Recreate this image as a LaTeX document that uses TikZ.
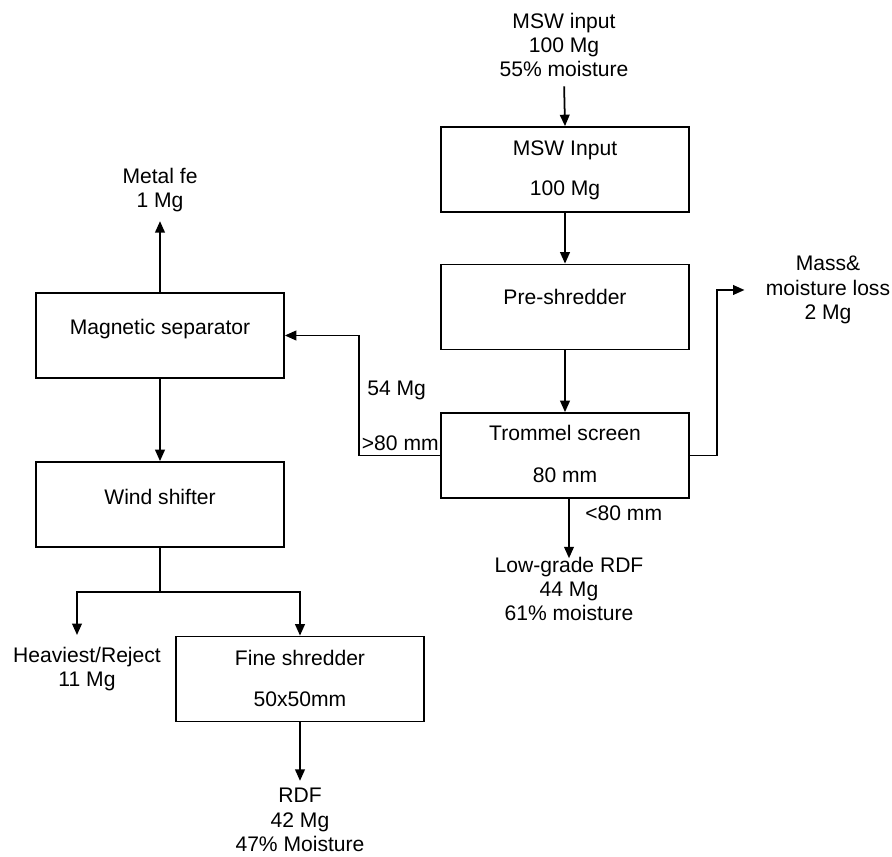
\documentclass[tikz,border=0pt]{standalone}
\usepackage{fontspec}
\setmainfont{Liberation Sans}
\usetikzlibrary{arrows.meta}
\tikzset{flow box/.style={draw,line width=1pt,minimum width=4.96cm,minimum height=1.7cm,inner sep=0pt},
	box text/.style={anchor=base,inner sep=0pt},
	flow label/.style={align=center,inner sep=2pt},
	flow line/.style={line width=1pt},
	flow arrow/.style={flow line,-{Triangle[length=6.5pt,width=5.5pt]}}}

\begin{document}
\begin{tikzpicture}[x=0.02cm,y=-0.02cm,font=\fontsize{12}{13.9}\selectfont]
			\useasboundingbox (0,0) rectangle (892,857);
			\node[flow box] (msw) at (565,169.5) {};
			\node[flow box] (pre) at (565,307) {};
			\node[flow box] (trom) at (565,455.5) {};
			\node[flow box] (mag) at (160,335.5) {};
			\node[flow box] (wind) at (160,504.5) {};
			\node[flow box] (fine) at (300,679) {};
			\node[box text] (mswA) at (565,156) {MSW Input};
			\node[box text] (mswB) at (565,196) {100 Mg};
			\node[box text] (preA) at (565,305) {Pre-shredder};
			\node[box text] (tromA) at (565,441) {Trommel screen};
			\node[box text] (tromB) at (565,483) {80 mm};
			\node[box text] (magA) at (160,335) {Magnetic separator};
			\node[box text] (windA) at (160,505) {Wind shifter};
			\node[box text] (fineA) at (300,665) {Fine shredder};
			\node[box text] (fineB) at (300,706) {50x50mm};
			\node[flow label] (feed) at (564,45) {MSW input\\100 Mg\\55\% moisture};
			\node[flow label] (metal) at (160,190) {Metal fe\\1 Mg};
			\node[flow label] (loss) at (828,290) {Mass\&\\moisture loss\\2 Mg};
			\node[flow label] (low) at (569,589) {Low-grade RDF\\44 Mg\\61\% moisture};
			\node[flow label] (reject) at (87,669) {Heaviest/Reject\\11 Mg};
			\node[flow label] (rdf) at (300,820) {RDF\\42 Mg\\47\% Moisture};
			\node[box text,anchor=west] (coarse) at (367,390) {54 Mg};
			\node[box text,anchor=base east] (over) at (439,451) {>80 mm};
			\node[box text,anchor=base west] (under) at (585,521) {<80 mm};
			\coordinate (overturn) at (359,455.5);
			\coordinate (lossturn) at (717,455.5);
			\coordinate (split) at (160,592);
			\coordinate (rejectin) at (77,635);
			\draw[flow arrow,shorten <=3pt] (feed.south) -- (msw.north);
			\draw[flow arrow] (msw.south) -- (pre.north);
			\draw[flow arrow] (pre.south) -- (trom.north);
			\draw[flow arrow] (trom.west) -- (overturn) |- (mag.east);
			\draw[flow arrow,shorten >=10pt] (trom.east) -- (lossturn) |- (loss.west);
			\draw[flow arrow,shorten >=-3pt] (low.north |- trom.south) -- (low.north);
			\draw[flow arrow,shorten >=3pt] (mag.north) -- (metal.south);
			\draw[flow arrow] (mag.south) -- (wind.north);
			\draw[flow line] (wind.south) -- (split);
			\draw[flow arrow] (split) -| (fine.north);
			\draw[flow arrow] (split) -| (rejectin);
			\draw[flow arrow,shorten >=2pt] (fine.south) -- (rdf.north);
		\end{tikzpicture}
\end{document}
